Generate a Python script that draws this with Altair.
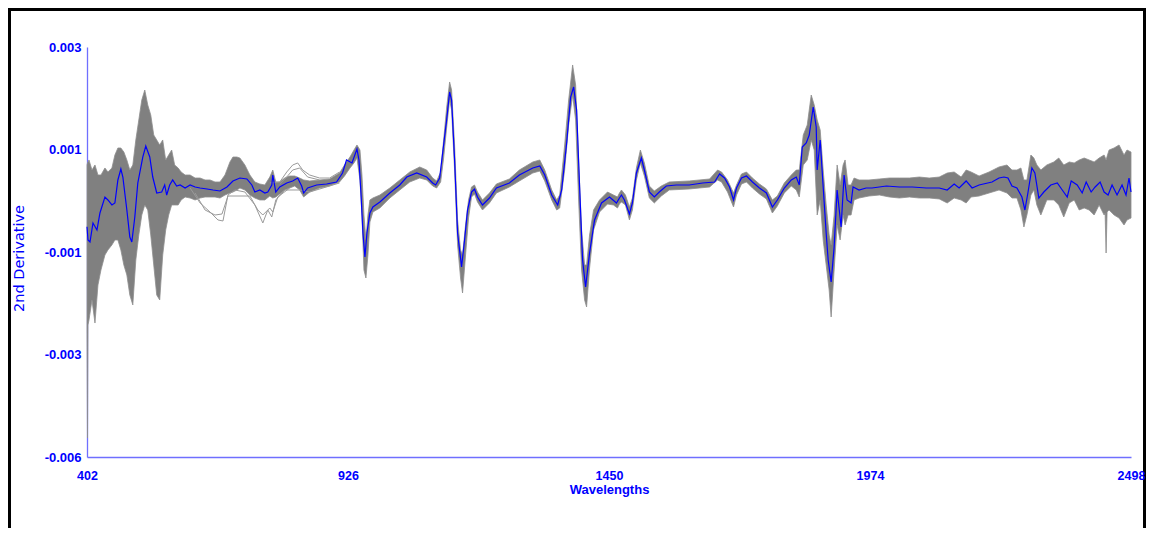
import altair as alt
import pandas as pd

# values are stored in units of 1e-4 (2nd derivative)
UNIT = 1e-4

# ---- mean spectrum (blue) ----
mean_wl = [402, 404, 408, 414, 422, 428, 438, 444, 452, 458, 464, 470, 474, 482, 488, 492, 498, 504,
           514, 520, 528, 534, 542, 552, 558, 562, 568, 574, 582, 589, 599, 609, 619, 629, 643, 655,
           669, 683, 695, 709, 723, 733, 739, 749, 759, 765, 773, 775, 781, 789, 803, 815, 825, 833,
           837, 845, 863, 883, 903, 915, 923, 934, 944, 948, 952, 956, 960, 964, 970, 976, 990, 1010,
           1030, 1044, 1064, 1084, 1096, 1102, 1110, 1116, 1124, 1130, 1134, 1140, 1146, 1154, 1160,
           1166, 1174, 1180, 1186, 1196, 1210, 1224, 1250, 1270, 1297, 1311, 1321, 1335, 1347, 1355,
           1365, 1373, 1379, 1385, 1391, 1397, 1403, 1411, 1421, 1435, 1451, 1465, 1471, 1475, 1481,
           1491, 1497, 1505, 1515, 1521, 1531, 1541, 1551, 1565, 1585, 1611, 1638, 1662, 1672, 1682,
           1692, 1700, 1706, 1716, 1726, 1738, 1752, 1766, 1778, 1788, 1802, 1816, 1826, 1832, 1838,
           1846, 1852, 1860, 1866, 1868, 1874, 1880, 1886, 1890, 1896, 1902, 1908, 1916, 1922, 1928,
           1936, 1940, 1952, 1966, 1978, 2007, 2033, 2059, 2087, 2113, 2129, 2143, 2153, 2167, 2179,
           2193, 2219, 2233, 2243, 2251, 2259, 2269, 2279, 2285, 2291, 2299, 2305, 2313, 2323, 2337,
           2350, 2360, 2370, 2378, 2390, 2400, 2408, 2418, 2426, 2436, 2444, 2452, 2460, 2470, 2480,
           2488, 2494, 2498]
mean_val = [-9.45, -12.36, -12.80, -8.63, -10.17, -6.44, -2.93, -3.58, -4.68, -4.24, 0.81, 3.22, 1.46,
            -5.78, -11.71, -12.80, -7.32, 0.15, 5.85, 8.27, 5.85, 1.46, -2.05, -1.83, -0.29, -2.49,
            -0.29, 0.81, -0.51, -0.29, -0.95, -0.29, -0.73, -0.95, -1.17, -1.39, -1.61, -0.73, 0.59,
            1.24, 1.03, -0.29, -1.83, -1.39, -2.05, -1.83, -0.29, 1.90, -1.83, -0.73, 0.15, 0.59, 1.24,
            -0.51, -2.05, -0.95, -0.29, -0.07, 0.37, 2.34, 5.20, 4.54, 7.61, 5.20, -2.05, -10.83,
            -16.10, -10.83, -6.44, -5.12, -4.02, -2.05, -0.29, 1.46, 2.34, 1.46, 0.15, -0.29, 1.24,
            6.73, 13.98, 20.12, 18.37, 5.20, -10.83, -18.29, -12.36, -5.78, -1.83, -1.17, -2.93,
            -4.68, -3.15, -0.95, 0.15, 1.90, 3.44, 3.88, 1.90, -2.49, -4.68, -1.39, 8.93, 19.02,
            21.22, 16.17, -0.73, -16.75, -22.68, -15.22, -7.97, -4.24, -2.93, -4.24, -3.15, -2.49,
            -3.58, -6.66, -4.24, 2.34, 5.63, 3.00, -1.83, -2.93, -1.83, -0.51, -0.29, -0.29, 0.15,
            0.37, 2.12, 1.24, -0.73, -3.58, -0.95, 1.24, 1.68, 0.37, -0.95, -2.05, -5.12, -3.58,
            -0.95, 0.81, 1.46, -0.29, 8.05, 8.93, 10.68, 16.83, 12.44, 3.00, 9.59, -0.73, -10.83,
            -16.75, -21.58, -13.90, -1.39, -9.51, 1.90, -3.58, -4.24, -0.73, -1.39, -0.95, -0.95,
            -0.51, -0.73, -0.73, -0.95, -0.95, -1.39, -0.07, -0.95, 0.59, -0.95, -0.29, 0.37, 1.24,
            1.46, 1.24, -0.51, -0.95, -2.93, -5.78, -2.05, 3.44, 2.34, -3.15, -1.83, -0.29, 0.15,
            -1.39, -2.93, 0.59, -0.29, -2.05, 0.37, -1.83, -0.73, 0.37, -1.83, -2.49, -0.29, -2.49,
            -0.29, -2.49, 1.24, -1.83]

# ---- spread of all individual spectra (grey band: highest / lowest trace) ----
band_wl = [402, 403, 404, 406, 412, 418, 424, 430, 438, 444, 452, 458, 464, 470, 476, 482, 488, 494,
           500, 506, 512, 518, 524, 530, 536, 542, 548, 554, 560, 566, 572, 578, 585, 591, 599, 609,
           619, 629, 639, 649, 659, 669, 679, 689, 695, 703, 709, 719, 729, 739, 749, 759, 769, 775,
           781, 789, 799, 809, 819, 829, 837, 849, 869, 889, 909, 919, 930, 938, 944, 950, 954, 958,
           962, 966, 970, 976, 990, 1010, 1030, 1050, 1070, 1084, 1096, 1104, 1112, 1118, 1124, 1130,
           1134, 1140, 1146, 1152, 1156, 1162, 1168, 1174, 1180, 1186, 1196, 1210, 1224, 1250, 1270,
           1297, 1311, 1321, 1335, 1345, 1351, 1361, 1369, 1377, 1383, 1389, 1395, 1401, 1405, 1411,
           1419, 1431, 1447, 1459, 1467, 1471, 1475, 1483, 1491, 1497, 1505, 1513, 1521, 1531, 1541,
           1555, 1571, 1611, 1652, 1668, 1676, 1688, 1700, 1706, 1716, 1726, 1738, 1752, 1766, 1778,
           1788, 1802, 1816, 1826, 1832, 1840, 1848, 1856, 1862, 1868, 1874, 1880, 1886, 1892, 1896,
           1902, 1908, 1914, 1920, 1924, 1930, 1936, 1942, 1952, 1972, 1993, 2013, 2033, 2053, 2073,
           2093, 2113, 2129, 2143, 2157, 2167, 2177, 2193, 2213, 2233, 2249, 2259, 2269, 2277, 2283,
           2289, 2297, 2303, 2309, 2317, 2329, 2343, 2353, 2363, 2374, 2384, 2394, 2404, 2414, 2424,
           2434, 2444, 2446, 2448, 2450, 2454, 2464, 2474, 2484, 2490, 2498]
band_hi = [4.10, 4.54, 4.76, 5.20, 3.00, 4.10, 1.90, 1.90, 3.44, 2.56, 3.44, 6.29, 7.83, 7.83, 6.95,
           5.20, 3.00, 4.10, 9.59, 13.98, 18.37, 20.56, 17.27, 15.07, 10.68, 9.59, 8.49, 9.59, 5.20,
           6.29, 7.39, 4.10, 3.44, 2.56, 1.90, 1.90, 1.24, 1.24, 0.81, 0.81, 0.37, 0.37, 1.90, 4.76,
           5.85, 5.85, 5.63, 4.10, 1.90, 0.37, -0.07, -0.29, 1.46, 3.00, 0.37, 0.37, 1.24, 1.68, 1.68,
           1.24, 0.81, 0.59, 0.81, 1.03, 2.34, 4.10, 5.85, 7.39, 8.49, 7.39, 1.90, -6.88, -12.36,
           -6.88, -3.58, -3.15, -2.49, -0.95, 0.81, 2.56, 3.66, 3.00, 1.24, 0.59, 2.56, 9.59, 16.61,
           22.32, 20.56, 8.49, -7.97, -14.56, -15.66, -9.07, -3.58, -0.73, -0.29, -1.83, -3.58,
           -2.05, -0.07, 1.03, 3.00, 4.76, 5.20, 3.00, -1.39, -3.58, -2.49, 8.49, 18.37, 26.05,
           21.66, 5.20, -10.17, -17.85, -17.85, -11.27, -5.78, -3.58, -1.83, -2.49, -2.93, -2.05,
           -1.39, -2.49, -5.12, -3.15, 3.44, 7.39, 4.54, -0.51, -1.61, -0.51, 0.37, 0.59, 1.03, 3.00,
           2.56, 0.81, -2.05, -0.29, 2.12, 2.56, 1.24, -0.07, -1.17, -3.58, -2.71, 0.15, 1.90, 3.00,
           3.00, 10.68, 12.88, 19.46, 17.27, 13.98, 11.78, 3.00, -4.68, -11.27, -13.46, -6.88, 4.10,
           -0.29, 4.10, 5.20, -0.29, -0.29, 1.24, 0.81, 0.81, 1.03, 1.24, 1.24, 1.24, 1.46, 1.24,
           1.46, 2.34, 2.56, 1.46, 3.00, 2.56, 1.68, 2.56, 3.66, 4.10, 3.00, 3.00, 3.44, 0.81, 0.81,
           6.29, 5.63, 4.10, 3.00, 4.10, 4.76, 5.63, 4.10, 4.76, 4.54, 5.20, 5.63, 5.20, 4.76, 5.63,
           6.29, 5.80, 5.20, 6.00, 7.39, 7.83, 8.49, 6.29, 7.39, 6.95]
band_lo = [-32.12, -55.83, -31.00, -29.93, -25.53, -30.59, -22.24, -18.95, -15.66, -14.56, -13.46,
           -12.36, -12.36, -14.56, -17.85, -20.05, -24.44, -26.63, -16.75, -11.27, -6.88, -4.68,
           -5.78, -11.27, -17.85, -24.44, -25.53, -15.66, -10.17, -6.88, -4.68, -4.68, -4.68, -3.58,
           -2.93, -3.15, -3.58, -3.15, -2.93, -2.93, -2.93, -3.15, -2.49, -2.05, -1.83, -1.39, -0.95,
           -1.39, -2.49, -3.15, -3.58, -3.58, -2.71, -3.15, -2.93, -2.27, -1.39, -0.95, -0.51, -1.39,
           -2.93, -1.83, -0.95, -0.51, 0.37, 1.68, 3.44, 4.54, 5.63, 0.81, -6.88, -18.95, -20.71,
           -15.66, -8.41, -6.22, -5.34, -3.15, -1.39, 0.37, 1.24, 0.81, -0.51, -0.95, 0.37, 5.63,
           12.22, 18.37, 16.17, 3.00, -13.46, -20.71, -24.00, -15.66, -7.54, -2.93, -2.27, -4.02,
           -5.78, -4.24, -2.05, -0.73, 0.59, 2.34, 2.78, 0.59, -3.58, -5.78, -5.34, 3.00, 12.88,
           19.46, 13.98, -3.58, -18.95, -25.53, -27.07, -18.51, -10.17, -6.22, -4.46, -4.68, -5.34,
           -4.46, -4.02, -4.68, -7.97, -5.78, 0.81, 4.54, 1.68, -3.15, -4.24, -2.71, -1.39, -1.17,
           -0.73, 0.81, 0.37, -1.83, -5.12, -2.49, -0.07, 0.37, -0.95, -2.27, -3.36, -6.44, -4.90,
           -2.05, -0.51, -1.39, -2.93, 4.10, 5.20, 9.59, 7.39, -6.88, -3.58, -12.36, -17.85, -23.34,
           -29.27, -18.95, -9.07, -12.36, -6.88, -9.07, -6.88, -6.88, -3.58, -3.15, -2.71, -2.49,
           -2.93, -3.15, -2.93, -3.15, -3.15, -3.36, -4.24, -3.15, -3.58, -4.24, -2.93, -2.71, -2.05,
           -1.39, -2.05, -3.15, -3.15, -5.78, -9.51, -6.88, -2.49, -1.39, -4.68, -6.88, -3.58, -3.58,
           -4.68, -7.32, -4.24, -3.58, -5.78, -5.34, -5.78, -6.88, -4.68, -6.88, -6.50, -15.22,
           -6.20, -5.78, -6.88, -7.54, -9.07, -7.97, -7.54]

# ---- individual spectra that stray from the bundle (visible region 600-910 nm) ----
low1_wl = [609, 629, 649, 665, 675, 685, 699, 719, 739, 755, 765, 773, 781, 799, 829, 849, 909]
low1_val = [-0.95, -4.24, -6.22, -7.97, -8.19, -2.49, -1.39, -1.83, -4.68, -8.63, -5.78, -7.32,
            -3.58, -1.39, -1.39, -1.83, 0.15]
low2_wl = [619, 639, 659, 673, 685, 729, 745, 755, 769, 775, 785, 809]
low2_val = [-2.05, -5.78, -6.88, -6.66, -2.71, -2.71, -5.78, -6.88, -5.34, -6.22, -2.93, -0.95]
high1_wl = [769, 789, 803, 815, 825, 835, 849, 869, 889, 909]
high1_val = [0.15, 0.37, 2.56, 4.10, 4.54, 3.00, 1.90, 1.24, 1.24, 2.56]
high2_wl = [789, 803, 815, 829, 845, 869]
high2_val = [-0.07, 1.46, 3.00, 3.44, 1.46, 0.81]

X_TICKS = [402, 926, 1450, 1974, 2498]
Y_TICKS = [0.003, 0.00075, -0.0015, -0.00375, -0.006]
Y_TICK_LABELS = ["0.003", "0.001", "-0.001", "-0.003", "-0.006"]

assert len(mean_wl) == len(mean_val)
assert len(band_wl) == len(band_hi) == len(band_lo)

mean_df = pd.DataFrame({"wl": mean_wl, "v": [m * UNIT for m in mean_val]})
band_df = pd.DataFrame({"wl": band_wl,
                        "hi": [m * UNIT for m in band_hi],
                        "lo": [m * UNIT for m in band_lo]})
rows = []
for name, wls, vals in [("low1", low1_wl, low1_val), ("low2", low2_wl, low2_val),
                        ("high1", high1_wl, high1_val), ("high2", high2_wl, high2_val)]:
    for w, v in zip(wls, vals):
        rows.append({"wl": w, "v": v * UNIT, "s": name})
stray_df = pd.DataFrame(rows)

# label expression for the y axis
expr = f"'{Y_TICK_LABELS[-1]}'"
for i in range(len(Y_TICKS) - 2, -1, -1):
    thr = (Y_TICKS[i] + Y_TICKS[i + 1]) / 2
    expr = f"datum.value > {thr} ? '{Y_TICK_LABELS[i]}' : ({expr})"

W, H = 1138, 520
BLUE = "#0000ff"
AXIS_BLUE = "#6f6fff"

xscale = alt.Scale(domain=[402, 2498], range=[79, 1123], nice=False, zero=False)
yscale = alt.Scale(domain=[-0.006, 0.003], range=[449, 39], nice=False, zero=False)

xaxis = alt.Axis(values=X_TICKS, format="d", title="Wavelengths", offset=-71, ticks=False,
                 grid=False, domainColor=AXIS_BLUE, domainWidth=1.3, labelColor=BLUE,
                 labelFont="Liberation Sans", labelFontWeight="bold", labelFontSize=12.5,
                 labelPadding=12, labelFlush=False, labelOverlap=False,
                 titleFont="Liberation Sans", titleFontWeight="bold", titleFontSize=13,
                 titleColor=BLUE, titleX=601, titleY=36, titleBaseline="alphabetic",
                 titleAlign="center", zindex=1)
yaxis = alt.Axis(values=Y_TICKS, labelExpr=expr, title="2nd Derivative", offset=-79, ticks=False,
                 grid=False, domainColor=AXIS_BLUE, domainWidth=1.3, labelColor=BLUE,
                 labelFont="Liberation Sans", labelFontWeight="bold", labelFontSize=13,
                 labelPadding=6, labelOverlap=False, titleFont="DejaVu Sans",
                 titleFontWeight="normal", titleFontSize=14.5, titleColor=BLUE, titleAngle=270,
                 titleAlign="center", titleBaseline="middle", titleX=-68, titleY=250)

X = alt.X("wl:Q", scale=xscale, axis=xaxis)

band = alt.Chart(band_df).mark_area(color="#808080", stroke="#8e8e8e", strokeWidth=0.8).encode(
    x=X, y=alt.Y("hi:Q", scale=yscale, axis=yaxis), y2="lo:Q")
stray = alt.Chart(stray_df).mark_line(color="#9a9a9a", strokeWidth=1).encode(
    x=X, y=alt.Y("v:Q", scale=yscale, axis=yaxis), detail="s:N")
mean = alt.Chart(mean_df).mark_line(color=BLUE, strokeWidth=1.2).encode(
    x=X, y=alt.Y("v:Q", scale=yscale, axis=yaxis))

one = pd.DataFrame({"k": [0]})
frame_left = alt.Chart(one).mark_rule(color="black", strokeWidth=4).encode(
    x=alt.value(1), y=alt.value(0), y2=alt.value(H))
frame_top = alt.Chart(one).mark_rule(color="black", strokeWidth=4).encode(
    x=alt.value(0), x2=alt.value(W), y=alt.value(1))
frame_right = alt.Chart(one).mark_rule(color="black", strokeWidth=3).encode(
    x=alt.value(W - 1.5), y=alt.value(0), y2=alt.value(H))

chart = alt.layer(band, stray, mean, frame_left, frame_top, frame_right).properties(
    width=W, height=H, autosize="none",
    padding={"left": 0, "top": 0, "right": 0, "bottom": 0},
    background="white",
).configure_view(strokeWidth=0)

chart.save("out.html", embed_options={"renderer": "svg", "actions": False})
